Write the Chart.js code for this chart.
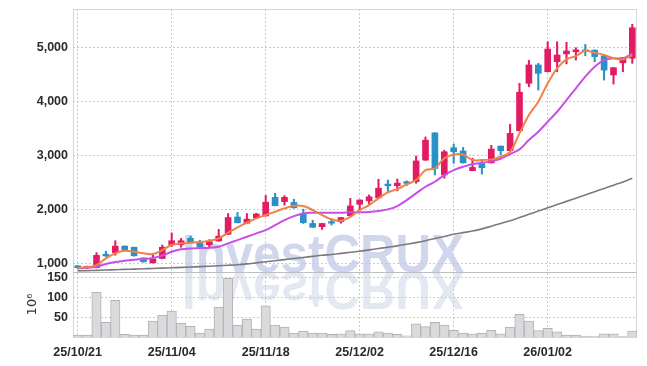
<!DOCTYPE html>
<html><head><meta charset="utf-8">
<script src="https://cdn.jsdelivr.net/npm/chart.js@4"></script>
<style>html,body{margin:0;padding:0;background:#fff;overflow:hidden}</style>
</head><body>
<canvas id="c" width="647" height="366"></canvas>
<script>
const dates = ["25/10/21","25/10/22","25/10/23","25/10/24","25/10/27","25/10/28","25/10/29","25/10/30","25/10/31","25/11/03",
"25/11/04","25/11/05","25/11/06","25/11/07","25/11/10","25/11/11","25/11/12","25/11/13","25/11/14","25/11/17",
"25/11/18","25/11/19","25/11/20","25/11/21","25/11/24","25/11/25","25/11/26","25/11/27","25/11/28","25/12/01",
"25/12/02","25/12/03","25/12/04","25/12/05","25/12/08","25/12/09","25/12/10","25/12/11","25/12/12","25/12/15",
"25/12/16","25/12/17","25/12/18","25/12/19","25/12/22","25/12/23","25/12/24","25/12/26","25/12/29","25/12/30",
"26/01/02","26/01/05","26/01/06","26/01/07","26/01/08","26/01/09","26/01/12","26/01/13","26/01/14","26/01/15"];

const opens = [955,915,920,1170,1200,1320,1300,1100,1010,1090,
1345,1345,1465,1380,1345,1415,1540,1860,1745,1845,
1880,2225,2145,2130,1925,1740,1680,1775,1775,1885,
2095,2160,2215,2470,2440,2515,2515,2915,3420,2640,
3145,3085,2720,2850,2865,3175,3090,3460,4340,4680,
4555,4740,4885,4925,4960,4955,4850,4495,4720,4805];

const highs = [960,950,1200,1225,1420,1325,1300,1105,1180,1340,
1565,1465,1505,1430,1440,1630,1925,1945,1925,1930,
2260,2300,2255,2190,2005,1800,1745,1830,1855,2205,
2180,2270,2560,2545,2565,2530,2990,3345,3425,3100,
3215,3150,2950,2905,3190,3180,3580,4340,4765,4710,
5110,5110,5100,5000,5060,4960,4875,4635,4820,5435];

const lows = [910,910,915,1125,1150,1245,1135,1020,1005,1085,
1310,1300,1375,1305,1310,1410,1535,1750,1740,1840,
1875,2065,2080,2025,1740,1665,1630,1710,1745,1880,
1990,2100,2210,2330,2345,2445,2485,2910,2640,2580,
2855,2860,2715,2655,2860,3010,3085,3455,4275,4215,
4550,4555,4700,4770,4850,4740,4400,4325,4555,4710];

const closes = [920,945,1150,1140,1320,1250,1140,1030,1080,1300,
1420,1420,1380,1310,1405,1505,1850,1755,1820,1915,
2135,2070,2225,2030,1755,1670,1740,1745,1850,2065,
2175,2235,2395,2440,2490,2485,2900,3285,2760,3070,
3070,2865,2780,2775,3120,3090,3410,4175,4680,4525,
4975,4865,4940,4960,4930,4835,4585,4630,4815,5370];

const ma5 = [918,930,968,1093,1186,1234,1215,1186,1172,1247,
1340,1371,1382,1395,1419,1464,1568,1668,1753,1835,
1896,1957,2020,2068,2063,1989,1896,1816,1790,1864,
1989,2081,2206,2317,2378,2465,2545,2731,2762,2948,
3020,3020,2916,2916,2929,2977,3070,3411,3751,3998,
4339,4617,4784,4845,4944,4907,4864,4803,4784,4864];

const ma20 = [907,918,937,990,1025,1050,1068,1082,1100,1145,
1215,1260,1278,1284,1290,1308,1371,1432,1494,1556,
1618,1710,1803,1877,1927,1939,1939,1939,1939,1946,
1946,1952,1970,2002,2063,2174,2298,2421,2514,2638,
2731,2792,2842,2866,2892,2940,3027,3115,3287,3441,
3627,3812,4029,4246,4462,4647,4771,4803,4803,4895];

const maLong = [860,865,870,876,882,888,894,900,906,912,
918,925,932,940,948,956,965,975,990,1010,
1030,1050,1070,1090,1110,1130,1150,1165,1185,1205,
1225,1250,1275,1300,1325,1355,1385,1420,1460,1500,
1540,1570,1600,1640,1690,1740,1790,1850,1910,1970,
2030,2090,2150,2210,2270,2330,2390,2450,2510,2580];

const volumes = [5,5,112,37,92,7,5,5,40,55,
65,35,27,10,20,75,147,30,45,20,
78,30,25,10,15,10,10,7,8,16,
8,8,13,10,7,3,33,26,37,30,
17,10,8,10,17,8,25,57,40,16,
22,13,5,5,2,1,8,8,1,15];

const priceTicks = [1000, 2000, 3000, 4000, 5000];
const volumeTicks = [50, 100, 150];

const UP = 'rgb(226,28,100)';
const DOWN = 'rgb(42,145,198)';
const GRID = 'rgb(196,202,224)';
const candleColors = closes.map((c, i) => c >= opens[i] ? UP : DOWN);

const watermark = {
  id: 'watermark',
  beforeDraw(chart) {
    const ctx = chart.ctx;
    const text = 'InvestCRUX';
    ctx.save();
    ctx.font = 'bold 54px "Liberation Sans", Arial, sans-serif';
    const w = ctx.measureText(text).width;
    const sx = 282 / w;
    const x0 = 182, base = 272;
    ctx.textBaseline = 'alphabetic';
    ctx.save();
    ctx.translate(x0, base);
    ctx.scale(sx, 1);
    ctx.fillStyle = 'rgba(150,165,210,0.45)';
    ctx.fillText(text, 0, 0);
    ctx.restore();
    ctx.save();
    ctx.translate(x0, base);
    ctx.scale(sx, -1);
    ctx.fillStyle = 'rgba(150,165,210,0.26)';
    ctx.fillText(text, 0, 0);
    ctx.restore();
    ctx.restore();
  }
};

const frame = {
  id: 'frame',
  beforeDatasetsDraw(chart) {
    const {ctx, chartArea: a} = chart;
    const sep = chart.scales.y.bottom;
    ctx.save();
    ctx.strokeStyle = 'rgb(214,214,218)';
    ctx.lineWidth = 1;
    ctx.strokeRect(a.left + 0.5, a.top + 0.5, a.right - a.left - 1, a.bottom - a.top);
    ctx.strokeStyle = 'rgb(190,190,194)';
    ctx.beginPath();
    ctx.moveTo(a.left, Math.round(sep) + 0.5);
    ctx.lineTo(a.right, Math.round(sep) + 0.5);
    ctx.stroke();
    ctx.restore();
  }
};

const tickFont = {family: '"Liberation Sans", Arial, sans-serif', size: 12.5, weight: 'bold'};
const noPad = s => { s.paddingTop = 0; s.paddingBottom = 0; s.paddingLeft = 0; s.paddingRight = 0; };

new Chart(document.getElementById('c'), {
  data: {
    labels: dates,
    datasets: [
      {type: 'line', data: ma5, borderColor: 'rgb(240,130,72)', borderWidth: 2, pointRadius: 0, tension: 0.35, yAxisID: 'y', order: 0},
      {type: 'line', data: ma20, borderColor: 'rgb(200,78,232)', borderWidth: 2, pointRadius: 0, tension: 0.35, yAxisID: 'y', order: 0},
      {type: 'line', data: maLong, borderColor: 'rgb(122,122,126)', borderWidth: 1.6, pointRadius: 0, tension: 0.35, yAxisID: 'y', order: 0},
      {type: 'bar', data: opens.map((o, i) => [o, closes[i]]), backgroundColor: candleColors, barThickness: 6, grouped: false, yAxisID: 'y', order: 1},
      {type: 'bar', data: lows.map((l, i) => [l, highs[i]]), backgroundColor: candleColors, barThickness: 1.4, grouped: false, yAxisID: 'y', order: 2},
      {type: 'bar', data: volumes, backgroundColor: 'rgb(218,218,220)', borderColor: 'rgb(178,178,182)', borderWidth: 1, barPercentage: 1, categoryPercentage: 1, grouped: false, yAxisID: 'y2', order: 3}
    ]
  },
  options: {
    responsive: false,
    animation: false,
    devicePixelRatio: 1,
    layout: {padding: {top: 9, right: 10, left: 0, bottom: 0}},
    plugins: {legend: {display: false}, tooltip: {enabled: false}},
    scales: {
      x: {
        type: 'category',
        offset: true,
        afterFit: s => { s.height = 29; noPad(s); },
        grid: {offset: false, drawTicks: false, color: c => (c.index % 10 === 0 ? GRID : 'rgba(0,0,0,0)')},
        border: {display: false, dash: [2, 2]},
        ticks: {autoSkip: false, maxRotation: 0, minRotation: 0, padding: 8, color: '#2a2a2a', font: tickFont,
          callback: (v, i) => (i % 10 === 0 ? dates[i] : '')}
      },
      y2: {
        type: 'linear', position: 'left', stack: 'panels', stackWeight: 65,
        min: 0, max: 163,
        afterFit: s => { s.width = 73; noPad(s); },
        afterBuildTicks: s => { s.ticks = volumeTicks.map(v => ({value: v})); },
        grid: {drawTicks: false, color: GRID},
        border: {display: false, dash: [2, 2]},
        title: {display: true, text: '10\u2076', color: '#333', padding: {top: 25, bottom: 0},
          font: {family: '"DejaVu Sans", sans-serif', size: 13}},
        ticks: {autoSkip: false, padding: 5, color: '#2a2a2a', font: tickFont}
      },
      y: {
        type: 'linear', position: 'left', stack: 'panels', stackWeight: 263,
        min: 840, max: 5718,
        afterFit: s => { s.width = 73; noPad(s); },
        afterBuildTicks: s => { s.ticks = priceTicks.map(v => ({value: v})); },
        grid: {drawTicks: false, color: GRID},
        border: {display: false, dash: [2, 2]},
        ticks: {autoSkip: false, padding: 5, color: '#2a2a2a', font: tickFont,
          callback: v => v.toLocaleString('en-US')}
      }
    }
  },
  plugins: [watermark, frame]
});
</script>
</body></html>
